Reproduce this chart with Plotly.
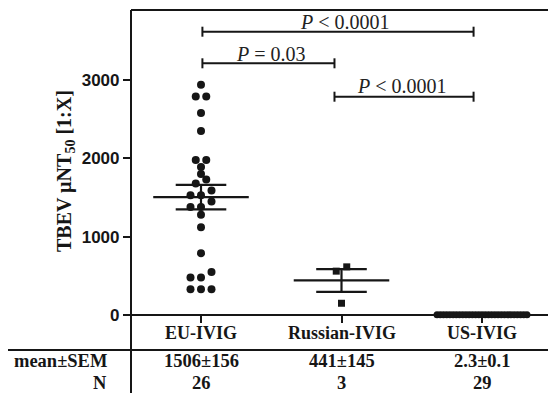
import plotly.graph_objects as go

# ---------------- data ----------------
categories = ["EU-IVIG", "Russian-IVIG", "US-IVIG"]
eu_values = [2940, 2790, 2790, 2580, 2350, 1980, 1980, 1890, 1800, 1730, 1680,
             1590, 1530, 1530, 1450, 1380, 1380, 1280, 1120, 790, 550, 480, 480,
             330, 330, 330]
russian_values = [615, 560, 150]
us_values = [2, 3, 2, 2, 3, 2, 2, 2, 3, 2, 2, 2, 3, 2, 2, 2, 3, 2, 2, 2, 3, 2, 2,
             3, 2, 2, 3, 2, 3]
mean_values = [1506, 441, 2.3]
sem_values = [156, 145, 0.1]
n_values = [26, 3, 29]
y_ticks = [0, 1000, 2000, 3000]
comparisons = [("EU-IVIG", "US-IVIG", "<i>P</i> &lt; 0.0001"),
               ("EU-IVIG", "Russian-IVIG", "<i>P</i> = 0.03"),
               ("Russian-IVIG", "US-IVIG", "<i>P</i> &lt; 0.0001")]

# ---------------- layout helpers ----------------
W, H = 548, 393
TOP = 10
ZERO_PX = 315
PX_PER_UNIT = 0.0783
CAT0_PX = 201
PX_PER_CAT = 140.5
AXIS_PX = 131

y_lo = -(H - ZERO_PX) / PX_PER_UNIT
y_hi = (ZERO_PX - TOP) / PX_PER_UNIT
x_lo = -CAT0_PX / PX_PER_CAT
x_hi = (W - CAT0_PX) / PX_PER_CAT


def ydata(py):
    return (ZERO_PX - py) / PX_PER_UNIT


def ypaper(py):
    return (H - py) / (H - TOP)


def swarm(values, center, step=0.0747, maxhalf=0.32, thr=89):
    rows = []
    for v in sorted(values):
        if rows and v - rows[-1][0] <= thr:
            rows[-1].append(v)
        else:
            rows.append([v])
    xs, ys = [], []
    for row in rows:
        n = len(row)
        sp = step if n == 1 else min(step, 2 * maxhalf / (n - 1))
        for k, v in enumerate(row):
            xs.append(center + (k - (n - 1) / 2) * sp)
            ys.append(v)
    return xs, ys


INK = "#161616"
fig = go.Figure()

# mean +- SEM lines
mx, my = [], []
for i, (m, s) in enumerate(zip(mean_values, sem_values)):
    mx += [i - 0.34, i + 0.34, None, i - 0.18, i + 0.18, None,
           i - 0.18, i + 0.18, None, i, i, None]
    my += [m, m, None, m + s, m + s, None, m - s, m - s, None, m - s, m + s, None]
fig.add_trace(go.Scatter(x=mx, y=my, mode="lines", line=dict(color=INK, width=2.2),
                         hoverinfo="skip", showlegend=False))

groups = [(eu_values, "circle", 8), (russian_values, "square", 7), (us_values, "circle", 7)]
for i, (vals, sym, sz) in enumerate(groups):
    xs, ys = swarm(vals, i)
    fig.add_trace(go.Scatter(x=xs, y=ys, mode="markers",
                             marker=dict(symbol=sym, size=sz, color=INK, line=dict(width=0)),
                             showlegend=False, name=categories[i]))

shapes = []
# frame lines
shapes.append(dict(type="line", xref="paper", yref="paper", x0=AXIS_PX / W, x1=1,
                   y0=1, y1=1, line=dict(color=INK, width=2.2)))
shapes.append(dict(type="line", xref="paper", yref="y", x0=AXIS_PX / W, x1=1,
                   y0=0, y1=0, line=dict(color=INK, width=2)))
shapes.append(dict(type="line", xref="paper", yref="paper", x0=8 / W, x1=1,
                   y0=ypaper(350), y1=ypaper(350), line=dict(color=INK, width=2)))

# significance brackets
bracket_px = [31.7, 63.3, 96.7]
bracket_end = {"EU-IVIG": 0.01, "Russian-IVIG": 0.95, "US-IVIG": 1.94}
text_px = [(345, 22), (271, 54), (402, 86)]
cap = 5 / PX_PER_UNIT
annotations = []
for (a, b, label), py, (tx, ty) in zip(comparisons, bracket_px, text_px):
    yv = ydata(py)
    xa, xb = bracket_end[a], bracket_end[b]
    shapes.append(dict(type="line", xref="x", yref="y", x0=xa, x1=xb, y0=yv, y1=yv,
                       line=dict(color=INK, width=2)))
    for xe in (xa, xb):
        shapes.append(dict(type="line", xref="x", yref="y", x0=xe, x1=xe,
                           y0=yv - cap, y1=yv + cap, line=dict(color=INK, width=2)))
    annotations.append(dict(text=label, xref="x", yref="paper",
                            x=(tx - CAT0_PX) / PX_PER_CAT, y=ypaper(ty),
                            xanchor="center", yanchor="middle", showarrow=False,
                            font=dict(family="Liberation Serif", size=20, color="#222")))

# y-axis title
annotations.append(dict(text="TBEV µNT<sub>50</sub> [1:X]", xref="paper", yref="paper",
                        x=65 / W, y=ypaper(171), textangle=-90, showarrow=False,
                        xanchor="center", yanchor="middle",
                        font=dict(family="Liberation Serif", size=20, color=INK,
                                  weight="bold")))

# category labels
cfont = dict(family="Liberation Serif", size=18, color=INK, weight="bold")
for i, c in enumerate(categories):
    annotations.append(dict(text=c, xref="x", yref="paper", x=i, y=ypaper(333),
                            xanchor="center", yanchor="middle", showarrow=False,
                            font=cfont))

# table below the chart
tfont = dict(family="Liberation Serif", size=18.5, color=INK, weight="bold")
annotations.append(dict(text="mean±SEM", xref="paper", yref="paper", x=109 / W,
                        y=ypaper(361), xanchor="right", yanchor="middle",
                        showarrow=False, font=tfont))
annotations.append(dict(text="N", xref="paper", yref="paper", x=109 / W,
                        y=ypaper(383), xanchor="right", yanchor="middle",
                        showarrow=False, font=tfont))
for i, (m, s, n) in enumerate(zip(mean_values, sem_values, n_values)):
    annotations.append(dict(text=f"{m:g}±{s:g}", xref="x", yref="paper", x=i,
                            y=ypaper(361), xanchor="center", yanchor="middle",
                            showarrow=False, font=tfont))
    annotations.append(dict(text=f"{n}", xref="x", yref="paper", x=i,
                            y=ypaper(383), xanchor="center", yanchor="middle",
                            showarrow=False, font=tfont))

fig.update_layout(
    width=W, height=H,
    margin=dict(l=0, r=0, t=TOP, b=0, pad=0),
    paper_bgcolor="white", plot_bgcolor="white",
    shapes=shapes, annotations=annotations,
    xaxis=dict(range=[x_lo, x_hi], anchor="free", position=ypaper(ZERO_PX),
               tickvals=[0, 1, 2], ticks="outside", ticklen=7, showticklabels=False,
               tickwidth=2, tickcolor=INK, showline=False, showgrid=False,
               zeroline=False, automargin=False),
    yaxis=dict(range=[y_lo, y_hi], anchor="free", position=AXIS_PX / W,
               tickvals=y_ticks, ticks="outside", ticklen=7, tickwidth=2,
               tickcolor=INK, showline=True, linewidth=2.2, linecolor=INK,
               showgrid=False, zeroline=False, automargin=False,
               tickfont=dict(family="Liberation Sans", size=17, color=INK,
                             weight="bold")),
    showlegend=False,
)

fig.write_html(
    "out.html", config={"displayModeBar": False},
    post_script=("document.body.style.margin='0';"
                 "document.body.style.overflow='hidden';"
                 "document.documentElement.style.overflow='hidden';"))
